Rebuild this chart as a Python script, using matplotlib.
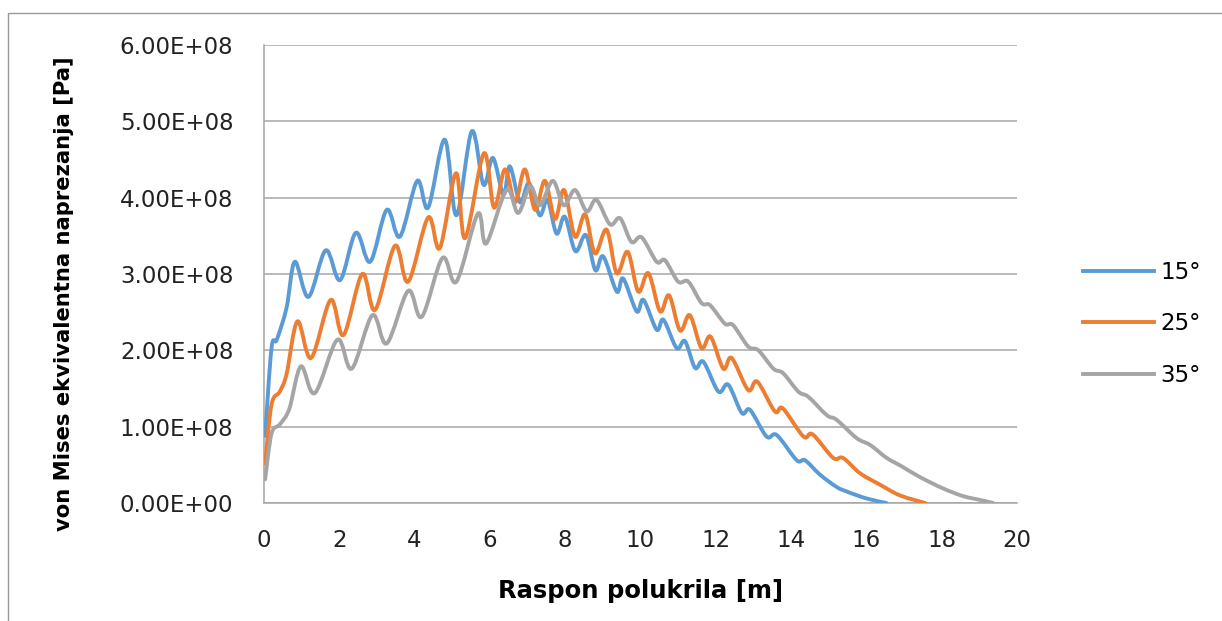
import matplotlib
matplotlib.use("Agg")
import matplotlib.pyplot as plt
import numpy as np
from matplotlib.path import Path
from matplotlib.patches import PathPatch, Rectangle
from matplotlib.lines import Line2D
from matplotlib.ticker import FuncFormatter, MultipleLocator

# Data (span in m, stress in 1e8 Pa)
x_15 = [0.03, 0.2, 0.34, 0.6, 0.82, 1.18, 1.64, 2.02, 2.44, 2.82, 3.26, 3.61, 4.07, 4.36,
        4.80, 5.11, 5.52, 5.83, 6.08, 6.36, 6.53, 6.80, 7.04, 7.32, 7.53, 7.77, 7.99, 8.27,
        8.55, 8.80, 9.01, 9.37, 9.54, 9.90, 10.08, 10.43, 10.61, 10.96, 11.18, 11.45, 11.67,
        12.07, 12.33, 12.69, 12.91, 13.35, 13.62, 14.15, 14.37, 14.77, 15.21, 15.48, 16.0, 16.53]
y_15 = [0.88, 2.03, 2.14, 2.56, 3.16, 2.70, 3.31, 2.92, 3.54, 3.16, 3.84, 3.49, 4.22, 3.87,
        4.76, 3.77, 4.87, 4.17, 4.52, 4.04, 4.41, 3.94, 4.19, 3.77, 3.97, 3.53, 3.75, 3.30,
        3.51, 3.05, 3.23, 2.77, 2.94, 2.51, 2.66, 2.27, 2.40, 2.03, 2.12, 1.77, 1.85,
        1.46, 1.55, 1.18, 1.22, 0.87, 0.89, 0.56, 0.56, 0.37, 0.21, 0.15, 0.06, 0.0]

x_25 = [0.03, 0.2, 0.42, 0.6, 0.89, 1.25, 1.77, 2.11, 2.61, 2.95, 3.48, 3.83, 4.36, 4.67,
        5.10, 5.34, 5.84, 6.11, 6.40, 6.67, 6.93, 7.20, 7.46, 7.73, 7.97, 8.26, 8.53, 8.79,
        9.10, 9.37, 9.66, 9.94, 10.21, 10.52, 10.76, 11.05, 11.31, 11.62, 11.86, 12.20, 12.42,
        12.86, 13.10, 13.57, 13.78, 14.33, 14.57, 15.12, 15.38, 15.83, 16.36, 16.89, 17.56]
y_25 = [0.52, 1.29, 1.46, 1.69, 2.38, 1.90, 2.66, 2.20, 3.00, 2.53, 3.37, 2.90, 3.74, 3.34,
        4.32, 3.47, 4.58, 3.87, 4.37, 3.94, 4.37, 3.84, 4.22, 3.72, 4.10, 3.49, 3.78, 3.27,
        3.58, 3.01, 3.29, 2.77, 3.01, 2.51, 2.72, 2.26, 2.46, 2.03, 2.18, 1.76, 1.90,
        1.48, 1.59, 1.20, 1.24, 0.87, 0.90, 0.59, 0.59, 0.39, 0.24, 0.10, 0.0]

x_35 = [0.03, 0.2, 0.42, 0.67, 0.98, 1.35, 1.95, 2.33, 2.88, 3.26, 3.83, 4.19, 4.74, 5.11,
        5.68, 5.90, 6.44, 6.75, 7.07, 7.33, 7.67, 7.96, 8.26, 8.57, 8.83, 9.19, 9.46, 9.76,
        10.03, 10.43, 10.65, 11.0, 11.27, 11.62, 11.85, 12.24, 12.46, 12.86, 13.13, 13.53,
        13.79, 14.19, 14.46, 14.95, 15.21, 15.74, 16.10, 16.54, 16.94, 17.42, 18.04, 18.57,
        19.02, 19.37]
y_35 = [0.31, 0.91, 1.03, 1.23, 1.79, 1.44, 2.14, 1.76, 2.46, 2.09, 2.78, 2.44, 3.21, 2.90,
        3.79, 3.40, 4.10, 3.80, 4.15, 3.90, 4.22, 3.90, 4.10, 3.82, 3.97, 3.65, 3.73, 3.42,
        3.48, 3.16, 3.18, 2.90, 2.90, 2.62, 2.59, 2.35, 2.33, 2.05, 2.00, 1.76,
        1.70, 1.46, 1.39, 1.15, 1.09, 0.85, 0.76, 0.59, 0.48, 0.34, 0.19, 0.09,
        0.04, 0.0]

labels = ["15°", "25°", "35°"]
colors = ["#5B9BD5", "#ED7D31", "#A5A5A5"]
grid_col = "#A6A6A6"


def smooth_path(xs, ys):
    # Excel style smoothed line: cubic bezier through every point
    p = np.column_stack([xs, np.array(ys) * 1e8])
    n = len(p)
    verts = [p[0]]
    codes = [Path.MOVETO]
    for i in range(n - 1):
        p0 = p[i - 1] if i > 0 else p[i]
        p3 = p[i + 2] if i + 2 < n else p[i + 1]
        c1 = p[i] + (p[i + 1] - p0) / 6.0
        c2 = p[i + 1] - (p3 - p[i]) / 6.0
        verts += [c1, c2, p[i + 1]]
        codes += [Path.CURVE4] * 3
    return Path(verts, codes)


fig = plt.figure(figsize=(12.22, 6.21), dpi=100)
ax = fig.add_axes([264 / 1222, 1 - 503 / 621, 753 / 1222, 458 / 621])

# outer chart frame
fig.patches.append(Rectangle((8 / 1222, -0.1), 1.2, 1.1 - 12.5 / 621,
                             transform=fig.transFigure, fill=False,
                             edgecolor="#9a9a9a", lw=1.0, clip_on=False))

handles = []
for xs, ys, c, lab in zip([x_15, x_25, x_35], [y_15, y_25, y_35], colors, labels):
    ax.add_patch(PathPatch(smooth_path(xs, ys), fill=False, edgecolor=c, lw=2.8,
                           capstyle="round", joinstyle="round", zorder=3))
    handles.append(Line2D([], [], color=c, lw=2.8, label=lab))

ax.set_xlim(0, 20)
ax.set_ylim(0, 6e8)
ax.xaxis.set_major_locator(MultipleLocator(2))
ax.yaxis.set_major_locator(MultipleLocator(1e8))
ax.yaxis.set_major_formatter(FuncFormatter(lambda v, pos: f"{v:.2E}"))
ax.grid(True, axis="y", color=grid_col, lw=1.1)
ax.set_axisbelow(True)
for s in ["top", "right"]:
    ax.spines[s].set_visible(False)
for s in ["left", "bottom"]:
    ax.spines[s].set_color(grid_col)
    ax.spines[s].set_linewidth(1.1)
ax.tick_params(axis="both", length=0, labelsize=16.5, colors="#222222")
ax.tick_params(axis="y", pad=22)
ax.tick_params(axis="x", pad=19)

ax.set_ylabel("von Mises ekvivalentna naprezanja [Pa]", fontsize=15.2, fontweight="bold")
ax.yaxis.set_label_coords(-0.252, 0.457)
ax.set_xlabel("Raspon polukrila [m]", fontsize=17.5, fontweight="bold")
ax.xaxis.set_label_coords(0.5, -0.165)

fig.legend(handles=handles, loc="center left", bbox_to_anchor=(1062 / 1222, 1 - 324 / 621),
           frameon=False, fontsize=16.5, handlelength=3.1, handletextpad=0.3,
           labelspacing=1.25)

fig.savefig("out.png", dpi=100)
